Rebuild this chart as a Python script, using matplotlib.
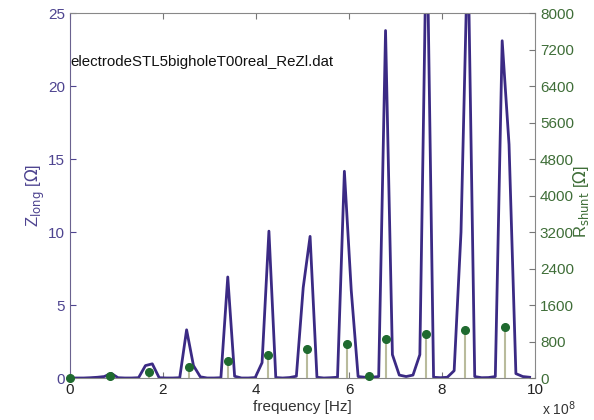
import numpy as np
import matplotlib
matplotlib.use("Agg")
import matplotlib.pyplot as plt
from matplotlib.ticker import FuncFormatter

plt.rcParams['font.family'] = ['Liberation Sans', 'DejaVu Sans']

# Z_long sampled on a uniform frequency grid (step ~1.475e7 Hz)
step = 1.475e7
z_long = [0, 0, 0, 0.02, 0.05, 0.1, 0.32, 0.02, 0, 0,
          0.02, 0.85, 0.97, 0.02, 0, 0, 0.02, 3.3, 0.85, 0.08,
          0, 0, 0.02, 6.92, 0.12, 0, 0, 0.03, 1.05, 10.06,
          0.03, 0, 0.03, 0.12, 6.2, 9.7, 0.05, 0, 0.02, 0.05,
          14.16, 6.0, 0.1, 0.05, 0.05, 0.1, 23.8, 1.6, 0.2, 0.1,
          0.2, 1.6, 32.0, 0.05, 0.02, 0.05, 0.5, 10.0, 30.0, 0.1,
          0.02, 0.03, 0.1, 23.1, 16.0, 0.3, 0.1, 0.05]
freq = np.arange(len(z_long)) * step

# R_shunt at the resonances
freq_r = [0, 0.85e8, 1.70e8, 2.55e8, 3.40e8, 4.25e8, 5.10e8, 5.95e8,
          6.43e8, 6.80e8, 7.65e8, 8.50e8, 9.35e8]
r_shunt = [0, 40, 130, 240, 365, 495, 625, 745, 50, 865, 975, 1045, 1115]

purple = '#3b2a84'
purple_txt = '#4e4490'
green_txt = '#3f6e38'

fig = plt.figure(figsize=(5.94, 4.2), dpi=100)
ax = fig.add_axes([0.1178, 0.1, 0.783, 0.869])
ax.plot(freq, z_long, color=purple, lw=2.0, zorder=2)
ax.set_xlim(0, 1e9)
ax.set_ylim(0, 25)
ax.set_xticks(np.arange(0, 10.1, 2) * 1e8)
ax.xaxis.set_major_formatter(FuncFormatter(lambda v, p: '%g' % (v / 1e8)))
ax.set_yticks([0, 5, 10, 15, 20, 25])
ax.tick_params(axis='both', direction='in', labelsize=11, length=4)
ax.tick_params(axis='y', colors=purple_txt, labelcolor=purple_txt)
ax.tick_params(axis='x', top=True, labelcolor='#222222', color='#777777')
ax.spines['left'].set_color('#6a628f')
for s in ['top', 'bottom', 'right']:
    ax.spines[s].set_color('#888888')
ax.set_xlabel('frequency [Hz]', fontsize=11, color='#333333', labelpad=2)
ax.set_ylabel(r'Z$_{\mathrm{long}}$ [$\Omega$]', fontsize=12, color=purple_txt, labelpad=1)
ax.text(0.0, 0.865, 'electrodeSTL5bigholeT00real_ReZl.dat', transform=ax.transAxes,
        fontsize=10.8, color='#111111', ha='left', va='center')
fig.text(0.912, 0.012, r'x 10$^8$', fontsize=10, color='#333333', ha='left')

ax2 = ax.twinx()
ml, sl, bl = ax2.stem(freq_r, r_shunt, basefmt=' ')
plt.setp(sl, color='#b9bb9c', lw=1.5)
plt.setp(ml, color='#1f6a2f', markersize=5.5, clip_on=False)
ax2.set_ylim(0, 8000)
ax2.set_yticks(np.arange(0, 8001, 800))
ax2.tick_params(axis='y', direction='in', labelsize=11, length=4,
                colors='#777777', labelcolor=green_txt)
for s in ax2.spines.values():
    s.set_visible(False)
fig.text(0.978, 0.52, r'R$_{\mathrm{shunt}}$ [$\Omega$]', fontsize=12, color=green_txt,
         rotation=90, ha='center', va='center')

fig.savefig('out.png', dpi=100)
